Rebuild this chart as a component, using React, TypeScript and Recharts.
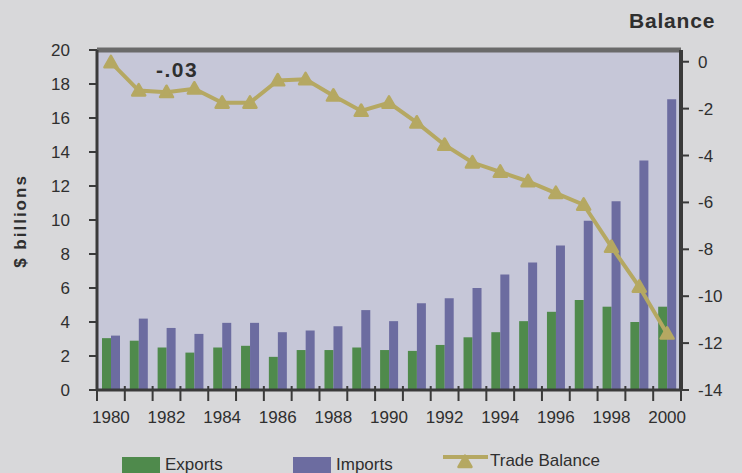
import React from 'react';
import { ComposedChart, Bar, Line, XAxis, YAxis, CartesianGrid, ReferenceLine } from 'recharts';

const years = ['1980','1981','1982','1983','1984','1985','1986','1987','1988','1989','1990','1991','1992','1993','1994','1995','1996','1997','1998','1999','2000'];
const exportsVals = [3.05,2.9,2.5,2.2,2.5,2.6,1.95,2.35,2.35,2.5,2.35,2.3,2.65,3.1,3.4,4.05,4.6,5.3,4.9,4.0,4.9];
const importsVals = [3.2,4.2,3.65,3.3,3.95,3.95,3.4,3.5,3.75,4.7,4.05,5.1,5.4,6.0,6.8,7.5,8.5,9.95,11.1,13.5,17.1];
const balanceVals = [-0.03,-1.23,-1.3,-1.15,-1.75,-1.75,-0.8,-0.75,-1.45,-2.1,-1.75,-2.6,-3.55,-4.3,-4.7,-5.1,-5.6,-6.1,-7.9,-9.6,-11.6];
const leftTicks = [0,2,4,6,8,10,12,14,16,18,20];
const rightTicks = [0,-2,-4,-6,-8,-10,-12,-14];

const data = years.map((y, i) => ({ year: y, exports: exportsVals[i], imports: importsVals[i], balance: balanceVals[i] }));

const W = 742, H = 473;
const M = { top: 50, right: 11, bottom: 53, left: 47 };
const YW = 50;
const plotW = W - M.left - M.right - 2 * YW;
const band = plotW / years.length;

const FONT = '"Liberation Sans", Arial, Helvetica, sans-serif';
const EXP = '#4f8a4c';
const IMP = '#6c6ca0';
const BAL = '#b5a862';
const INK = '#2f2f2f';
const AXIS = '#3a3a3a';

const fmtBal = (v: number) => {
  const s = v.toFixed(2);
  return s.replace(/^(-?)0\./, '$1.');
};

const XTick = (props: any) => {
  const { x, y, payload, index } = props;
  const axisY = y - 8 - 13;
  const bx = x - band / 2;
  return (
    <g>
      <line x1={bx} x2={bx} y1={axisY - 4} y2={axisY + 11} stroke={AXIS} strokeWidth={2} />
      {index === years.length - 1 && (
        <line x1={x + band / 2} x2={x + band / 2} y1={axisY - 4} y2={axisY + 11} stroke={AXIS} strokeWidth={2} />
      )}
      {index % 2 === 0 && (
        <text x={x} y={y} dy="0.71em" textAnchor="middle" fontSize={17} fill={INK} fontFamily={FONT}>
          {payload.value}
        </text>
      )}
    </g>
  );
};

const triPath = (cx: number, cy: number, s: number) =>
  `M${cx},${cy - s} L${cx + s},${cy + s * 0.75} L${cx - s},${cy + s * 0.75} Z`;

const TriDot = (p: any) => {
  const { cx, cy, index } = p;
  if (cx == null || cy == null) return <g key={`d${index}`} />;
  return (
    <path key={`d${index}`} d={triPath(cx, cy, 6.5)} fill={BAL} stroke={BAL} strokeWidth={2.5} strokeLinejoin="round" />
  );
};

const FirstLabel = (p: any) => {
  const { x, y, value, index } = p;
  if (index !== 0) return <g key={`l${index}`} />;
  return (
    <text key={`l${index}`} x={x + 45} y={y + 15} fontSize={21} fontWeight="bold" letterSpacing={1.5} fill={INK} fontFamily={FONT}>
      {fmtBal(value)}
    </text>
  );
};

const legendItems = [
  { name: 'Exports', color: EXP, kind: 'bar' },
  { name: 'Imports', color: IMP, kind: 'bar' },
  { name: 'Trade Balance', color: BAL, kind: 'line' },
];

export default function App() {
  return (
    <div style={{ position: 'fixed', left: 0, top: 0, width: W, height: H, background: '#d8d8da', overflow: 'hidden' }}>
      <ComposedChart width={W} height={H} data={data} margin={M} barGap={0} barSize={9}>
        <CartesianGrid horizontal={false} vertical={false} fill="#c6c7d8" fillOpacity={1} />
        <XAxis
          dataKey="year"
          height={30}
          interval={0}
          tickSize={8}
          tickMargin={13}
          tickLine={false}
          axisLine={{ stroke: AXIS, strokeWidth: 3 }}
          tick={(p: any) => <XTick {...p} />}
        />
        <YAxis
          width={YW}
          domain={[0, 20]}
          ticks={leftTicks}
          interval={0}
          tickSize={8}
          tickMargin={19}
          axisLine={{ stroke: AXIS, strokeWidth: 3 }}
          tickLine={{ stroke: AXIS, strokeWidth: 2 }}
          tick={{ fontSize: 17, fill: INK, fontFamily: FONT }}
          label={{
            content: () => (
              <text x={22} y={221} transform="rotate(-90 22 221)" textAnchor="middle" dominantBaseline="middle" fontSize={17} fontWeight="bold" letterSpacing={2} fill={INK} fontFamily={FONT}>
                $ billions
              </text>
            ),
          }}
        />
        <YAxis
          yAxisId="right"
          orientation="right"
          width={YW}
          domain={[-14, 0.5]}
          ticks={rightTicks}
          interval={0}
          allowDataOverflow
          tickSize={8}
          tickMargin={9}
          axisLine={{ stroke: AXIS, strokeWidth: 4 }}
          tickLine={{ stroke: AXIS, strokeWidth: 2 }}
          tick={{ fontSize: 17, fill: INK, fontFamily: FONT }}
          label={{
            content: () => (
              <text x={629} y={28} fontSize={21} fontWeight="bold" letterSpacing={0.8} fill={INK} fontFamily={FONT}>
                Balance
              </text>
            ),
          }}
        />
        <ReferenceLine y={20} stroke="#6a6a6a" strokeWidth={5} />
        <Bar dataKey="exports" name="Exports" fill={EXP} isAnimationActive={false} />
        <Bar dataKey="imports" name="Imports" fill={IMP} isAnimationActive={false} />
        <Line
          yAxisId="right"
          dataKey="balance"
          name="Trade Balance"
          type="linear"
          stroke={BAL}
          strokeWidth={4}
          dot={TriDot}
          activeDot={false}
          label={FirstLabel}
          isAnimationActive={false}
        />
      </ComposedChart>
      {legendItems.map((it, i) => {
        const left = [122, 293, 443][i];
        if (it.kind === 'bar') {
          return (
            <React.Fragment key={it.name}>
              <div style={{ position: 'absolute', left, top: 457, width: 38, height: 16, background: it.color }} />
              <span style={{ position: 'absolute', left: left + 43, top: 455, fontSize: 17, lineHeight: '20px', fontFamily: FONT, color: INK, whiteSpace: 'nowrap' }}>
                {it.name}
              </span>
            </React.Fragment>
          );
        }
        return (
          <React.Fragment key={it.name}>
            <svg style={{ position: 'absolute', left, top: 446 }} width={46} height={26}>
              <line x1={0} x2={45} y1={11} y2={11} stroke={it.color} strokeWidth={4} />
              <path d={triPath(22, 16, 6.5)} fill={it.color} stroke={it.color} strokeWidth={2.5} strokeLinejoin="round" />
            </svg>
            <span style={{ position: 'absolute', left: left + 47, top: 451, fontSize: 17, lineHeight: '20px', fontFamily: FONT, color: INK, whiteSpace: 'nowrap' }}>
              {it.name}
            </span>
          </React.Fragment>
        );
      })}
    </div>
  );
}
